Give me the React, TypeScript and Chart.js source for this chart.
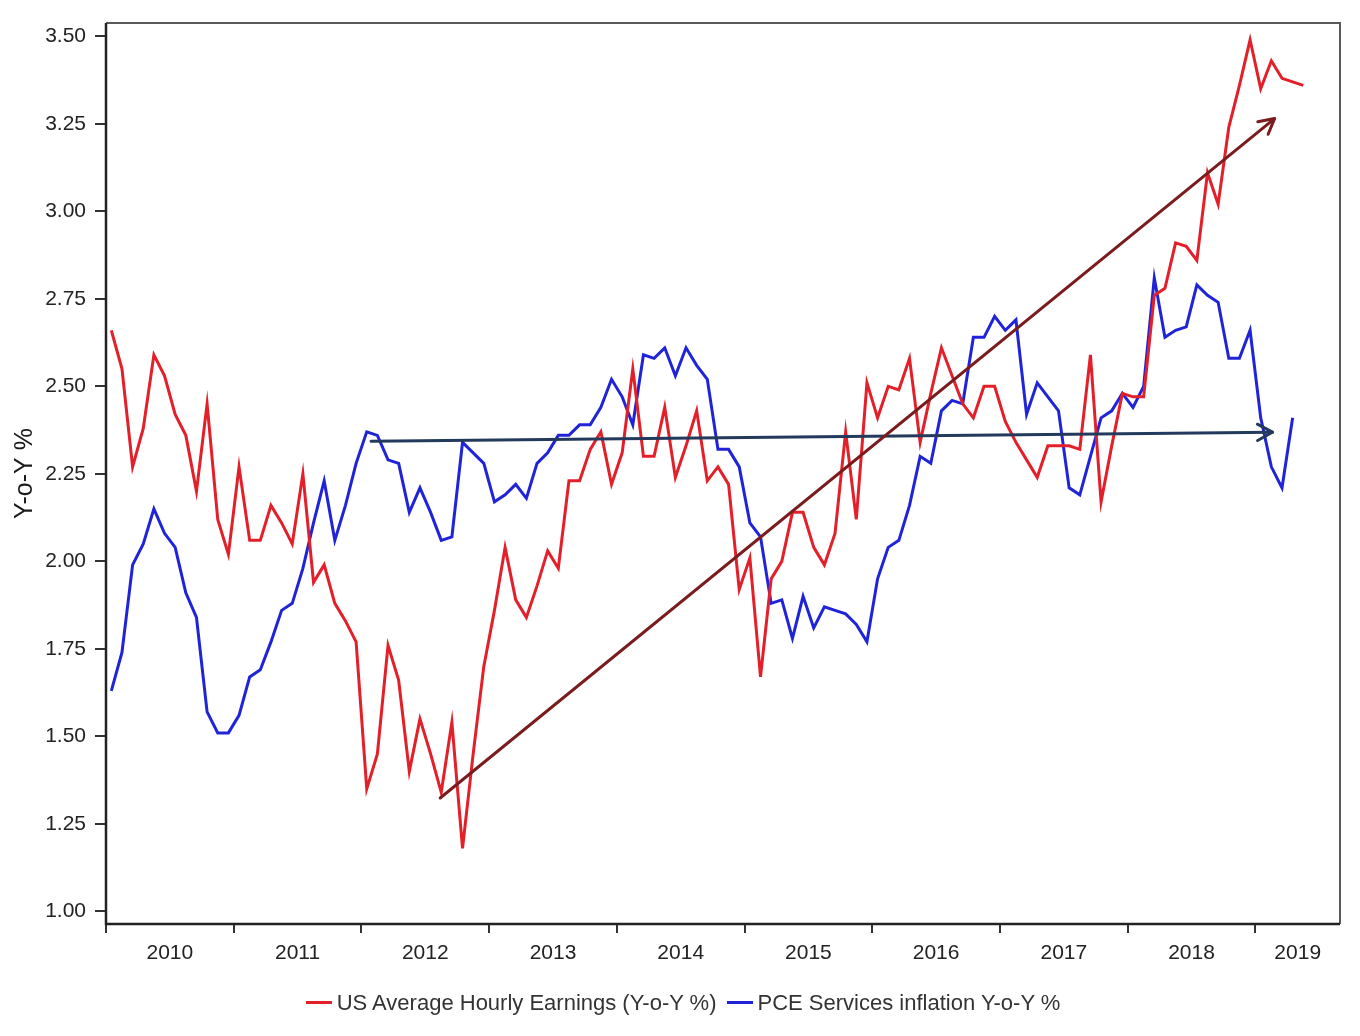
import React, { useEffect, useRef } from 'react';
import { Chart, registerables } from 'chart.js';

Chart.register(...registerables);

const FONT = "'Liberation Sans', Arial, sans-serif";

// x axis is in months counted from Jan 2010; the plot ends around Aug 2019
const YEARS = ['2010', '2011', '2012', '2013', '2014', '2015', '2016', '2017', '2018', '2019'];
const X_MAX = 115.95;
const Y_MIN = 0.964;
const Y_MAX = 3.538;
const Y_TICKS = [1.0, 1.25, 1.5, 1.75, 2.0, 2.25, 2.5, 2.75, 3.0, 3.25, 3.5];

// monthly, starting Jan 2010
const earnings = [
  2.66, 2.55, 2.27, 2.38, 2.59, 2.53, 2.42, 2.36, 2.20, 2.45,
  2.12, 2.02, 2.27, 2.06, 2.06, 2.16, 2.11, 2.05, 2.25, 1.94,
  1.99, 1.88, 1.83, 1.77, 1.35, 1.45, 1.76, 1.66, 1.40, 1.55,
  1.45, 1.34, 1.54, 1.18, 1.45, 1.70, 1.86, 2.04, 1.89, 1.84,
  1.93, 2.03, 1.98, 2.23, 2.23, 2.32, 2.37, 2.22, 2.31, 2.55,
  2.30, 2.30, 2.44, 2.24, 2.33, 2.43, 2.23, 2.27, 2.22, 1.92,
  2.01, 1.67, 1.95, 2.00, 2.14, 2.14, 2.04, 1.99, 2.08, 2.37,
  2.12, 2.51, 2.41, 2.50, 2.49, 2.58, 2.34, 2.48, 2.61, 2.53,
  2.45, 2.41, 2.50, 2.50, 2.40, 2.34, 2.29, 2.24, 2.33, 2.33,
  2.33, 2.32, 2.59, 2.17, 2.33, 2.48, 2.47, 2.47, 2.76, 2.78,
  2.91, 2.90, 2.86, 3.11, 3.02, 3.24, 3.36, 3.49, 3.35, 3.43,
  3.38, 3.37, 3.36,
];

const pceServices = [
  1.63, 1.74, 1.99, 2.05, 2.15, 2.08, 2.04, 1.91, 1.84, 1.57,
  1.51, 1.51, 1.56, 1.67, 1.69, 1.77, 1.86, 1.88, 1.98, 2.11,
  2.23, 2.06, 2.16, 2.28, 2.37, 2.36, 2.29, 2.28, 2.14, 2.21,
  2.14, 2.06, 2.07, 2.34, 2.31, 2.28, 2.17, 2.19, 2.22, 2.18,
  2.28, 2.31, 2.36, 2.36, 2.39, 2.39, 2.44, 2.52, 2.47, 2.39,
  2.59, 2.58, 2.61, 2.53, 2.61, 2.56, 2.52, 2.32, 2.32, 2.27,
  2.11, 2.07, 1.88, 1.89, 1.78, 1.90, 1.81, 1.87, 1.86, 1.85,
  1.82, 1.77, 1.95, 2.04, 2.06, 2.16, 2.30, 2.28, 2.43, 2.46,
  2.45, 2.64, 2.64, 2.70, 2.66, 2.69, 2.42, 2.51, 2.47, 2.43,
  2.21, 2.19, 2.30, 2.41, 2.43, 2.48, 2.44, 2.50, 2.81, 2.64,
  2.66, 2.67, 2.79, 2.76, 2.74, 2.58, 2.58, 2.66, 2.41, 2.27,
  2.21, 2.41,
];

// hand-drawn trend arrows (month, value)
const earningsTrendX = [31.4, 109.8];
const earningsTrendY = [1.324, 3.265];
const pceTrendX = [24.9, 109.6];
const pceTrendY = [2.343, 2.369];

const yearStarts = YEARS.map((_, i) => i * 12);
const yearMids = yearStarts.map((s) => (s + Math.min(s + 12, X_MAX)) / 2);

const toPoints = (vals: number[]) => vals.map((v, i) => ({ x: i + 0.5, y: v }));

const framePlugin = {
  id: 'frameAndArrows',
  afterDatasetsDraw(chart: any) {
    const { ctx, scales } = chart;
    const { x, y } = scales;
    const arrow = (xs: number[], ys: number[], color: string) => {
      const x0 = x.getPixelForValue(xs[0]);
      const y0 = y.getPixelForValue(ys[0]);
      const x1 = x.getPixelForValue(xs[1]);
      const y1 = y.getPixelForValue(ys[1]);
      const ang = Math.atan2(y1 - y0, x1 - x0);
      const len = 17;
      const spread = 0.5;
      ctx.save();
      ctx.strokeStyle = color;
      ctx.lineWidth = 3;
      ctx.lineCap = 'round';
      ctx.lineJoin = 'round';
      ctx.beginPath();
      ctx.moveTo(x0, y0);
      ctx.lineTo(x1, y1);
      ctx.stroke();
      ctx.beginPath();
      ctx.moveTo(x1 - len * Math.cos(ang - spread), y1 - len * Math.sin(ang - spread));
      ctx.lineTo(x1, y1);
      ctx.lineTo(x1 - len * Math.cos(ang + spread), y1 - len * Math.sin(ang + spread));
      ctx.stroke();
      ctx.restore();
    };
    arrow(pceTrendX, pceTrendY, '#233a5c');
    arrow(earningsTrendX, earningsTrendY, '#7a1c1e');
  },
  afterDraw(chart: any) {
    const { ctx, chartArea: a } = chart;
    ctx.save();
    ctx.lineWidth = 2;
    ctx.strokeStyle = '#5a5a5a';
    ctx.beginPath();
    ctx.moveTo(a.left, a.top);
    ctx.lineTo(a.right, a.top);
    ctx.lineTo(a.right, a.bottom);
    ctx.stroke();
    ctx.strokeStyle = '#222';
    ctx.lineWidth = 2.5;
    ctx.beginPath();
    ctx.moveTo(a.left, a.top);
    ctx.lineTo(a.left, a.bottom);
    ctx.lineTo(a.right, a.bottom);
    ctx.stroke();
    ctx.restore();
  },
};

function EarningsChart() {
  const canvasRef = useRef<HTMLCanvasElement>(null);

  useEffect(() => {
    if (!canvasRef.current) return;
    const chart = new Chart(canvasRef.current, {
      type: 'line',
      data: {
        datasets: [
          {
            label: 'US Average Hourly Earnings (Y-o-Y %)',
            data: toPoints(earnings),
            borderColor: '#e3202a',
            backgroundColor: '#e3202a',
            borderWidth: 3,
            pointRadius: 0,
            tension: 0,
            fill: false,
            order: 1,
          },
          {
            label: 'PCE Services inflation Y-o-Y %',
            data: toPoints(pceServices),
            borderColor: '#2024d8',
            backgroundColor: '#2024d8',
            borderWidth: 3,
            pointRadius: 0,
            tension: 0,
            fill: false,
            order: 2,
          },
        ],
      },
      options: {
        responsive: false,
        animation: false,
        layout: { padding: { left: 0, right: 20, top: 23, bottom: 56 } },
        plugins: {
          legend: { display: false },
          tooltip: { enabled: false },
        },
        scales: {
          x: {
            type: 'linear',
            min: 0,
            max: X_MAX,
            afterBuildTicks: (s: any) => {
              s.ticks = [...yearStarts, ...yearMids].sort((p, q) => p - q).map((v) => ({ value: v }));
            },
            afterFit: (s: any) => {
              s.height = 56;
            },
            border: { display: false },
            grid: {
              drawOnChartArea: false,
              tickLength: 9,
              lineWidth: 2,
              tickColor: (c: any) => (c.tick && yearStarts.includes(c.tick.value) ? '#333' : 'rgba(0,0,0,0)'),
            },
            ticks: {
              autoSkip: false,
              maxRotation: 0,
              padding: 8,
              color: '#222',
              font: { family: FONT, size: 21 },
              callback: (v: any) => {
                const i = yearMids.indexOf(Number(v));
                return i >= 0 ? YEARS[i] : '';
              },
            },
          },
          y: {
            type: 'linear',
            min: Y_MIN,
            max: Y_MAX,
            afterBuildTicks: (s: any) => {
              s.ticks = Y_TICKS.map((v) => ({ value: v }));
            },
            afterFit: (s: any) => {
              s.width = 106;
            },
            border: { display: false },
            grid: {
              drawOnChartArea: false,
              tickLength: 11,
              lineWidth: 2,
              color: '#333',
            },
            ticks: {
              padding: 9,
              color: '#222',
              font: { family: FONT, size: 21 },
              callback: (v: any) => Number(v).toFixed(2),
            },
            title: {
              display: true,
              text: 'Y-o-Y %',
              color: '#1a1a1a',
              font: { family: FONT, size: 25 },
              padding: { top: 10, bottom: 0 },
            },
          },
        },
      },
      plugins: [framePlugin],
    });
    return () => chart.destroy();
  }, []);

  const legendItems = [
    { label: 'US Average Hourly Earnings (Y-o-Y %)', color: '#e3202a' },
    { label: 'PCE Services inflation Y-o-Y %', color: '#2024d8' },
  ];

  return (
    <div style={{ position: 'absolute', left: 0, top: 0, width: 1360, height: 1036, background: '#fff' }}>
      <canvas ref={canvasRef} width={1360} height={1036} style={{ width: 1360, height: 1036, display: 'block' }} />
      <div
        style={{
          position: 'absolute',
          left: 0,
          top: 990,
          width: 1360,
          paddingLeft: 6,
          boxSizing: 'border-box',
          display: 'flex',
          justifyContent: 'center',
          alignItems: 'center',
          gap: 10,
          fontFamily: FONT,
          fontSize: 22,
          lineHeight: '25px',
          color: '#333',
        }}
      >
        {legendItems.map((it) => (
          <div key={it.label} style={{ display: 'flex', alignItems: 'center' }}>
            <span style={{ display: 'inline-block', width: 26, height: 3, background: it.color, marginRight: 5 }} />
            <span>{it.label}</span>
          </div>
        ))}
      </div>
    </div>
  );
}

export default function App() {
  return <EarningsChart />;
}
